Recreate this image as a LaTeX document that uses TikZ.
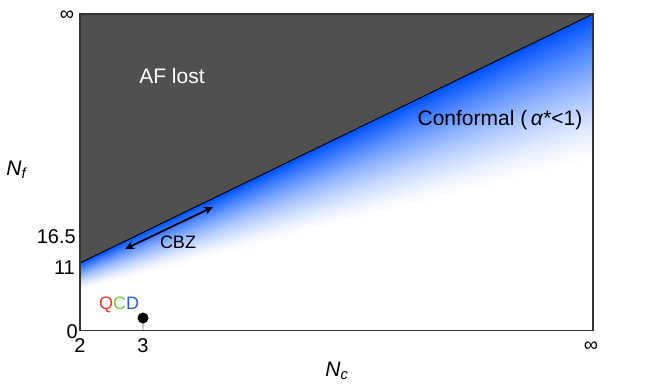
\documentclass[tikz,border=0pt]{standalone}
\usepackage{fontspec}
\setmainfont{Liberation Sans}
\usetikzlibrary{calc,arrows.meta}
\definecolor{afgray}{RGB}{80,80,80}
\definecolor{confblue}{RGB}{0,82,255}
\definecolor{qred}{RGB}{235,60,50}
\definecolor{qgreen}{RGB}{110,210,60}
\definecolor{qblue}{RGB}{40,90,240}
\tikzset{
  lbl/.style={inner sep=0pt, font=\fontsize{20}{24}\selectfont},
  biglbl/.style={inner sep=0pt, font=\fontsize{21}{25}\selectfont},
  smalllbl/.style={inner sep=0pt, font=\fontsize{18}{22}\selectfont},
}
\begin{document}
\begin{tikzpicture}[x=1pt,y=-1pt]
\useasboundingbox (0,0) rectangle (654,386);
% frame corners
\coordinate (TL) at (80,14);
\coordinate (TR) at (593,14);
\coordinate (BL) at (80,330.5);
\coordinate (BR) at (593,330.5);
\coordinate (UL) at (80,263);
% lower boundary of the blue fade
\coordinate (LL) at (80,290);
\coordinate (LR) at (593,160);
% far boundary (outside frame)
\coordinate (FL) at (60,400);
\coordinate (FR) at (620,400);
% blue fade
\begin{scope}
\clip (TL) rectangle (BR);
\foreach \i in {0,...,59}{
  \pgfmathsetmacro\s{\i/60}
  \pgfmathsetmacro\c{100*(1-\s)^1.4}
  \fill[confblue!\c!white] ($(UL)!\s!(LL)$) -- ($(TR)!\s!(LR)$) -- ($(TR)!\s!(LR)+(60,0)$) -- (FR) -- (FL) -- ($(UL)!\s!(LL)+(-30,0)$) -- cycle;
}
\fill[white] (LL) -- (LR) -- ($(LR)+(60,0)$) -- (FR) -- (FL) -- ($(LL)+(-30,0)$) -- cycle;
\end{scope}
% AF lost region
\fill[afgray] (TL) -- (TR) -- (UL) -- cycle;
\draw[black, line width=0.9pt] (UL) -- (TR);
% frame
\draw[black!80, line width=1.4pt] (TL) rectangle (BR);
% labels
\node[biglbl, text=white, anchor=base] (af) at (172,83) {AF lost};
\node[biglbl, anchor=base] (conf) at (500,125) {Conformal (\,\textit{α}*<1)};
% CBZ arrow
\coordinate (cbza) at (125,249);
\coordinate (cbzb) at (213,207);
\draw[line width=1.8pt, {Stealth[length=9pt,width=8pt]}-{Stealth[length=9pt,width=8pt]}] (cbza) -- (cbzb);
\node[smalllbl, anchor=base] (cbz) at (178,248) {CBZ};
% QCD point
\coordinate (tick3) at (143,330);
\draw[black!20, line width=1.5pt] (143,318) -- (tick3);
\node[circle, fill=black, inner sep=0pt, minimum size=11pt] (qcd) at (143,318) {};
\node[smalllbl, anchor=base] (qcdlbl) at (119,309) {\textcolor{qred}{Q}\textcolor{qgreen}{C}\textcolor{qblue}{D}};
% axis tick labels
\node[lbl, anchor=base east] (y165) at (76,243) {16.5};
\node[lbl, anchor=base east] (y11) at (75,274) {11};
\node[lbl, anchor=base east] (y0) at (78,338) {0};
\node[lbl] (yinf) at (67,16) {∞};
\node[lbl, anchor=base] (x2) at (80,352) {2};
\node[lbl, anchor=base] (x3) at (143,352) {3};
\node[lbl] (xinf) at (591,347) {∞};
% axis titles
\node[biglbl] (nf) at (17,170) {\textit{N}\textsubscript{\textit{f}}};
\node[biglbl] (nc) at (337,371) {\textit{N}\textsubscript{\textit{c}}};
\end{tikzpicture}
\end{document}
